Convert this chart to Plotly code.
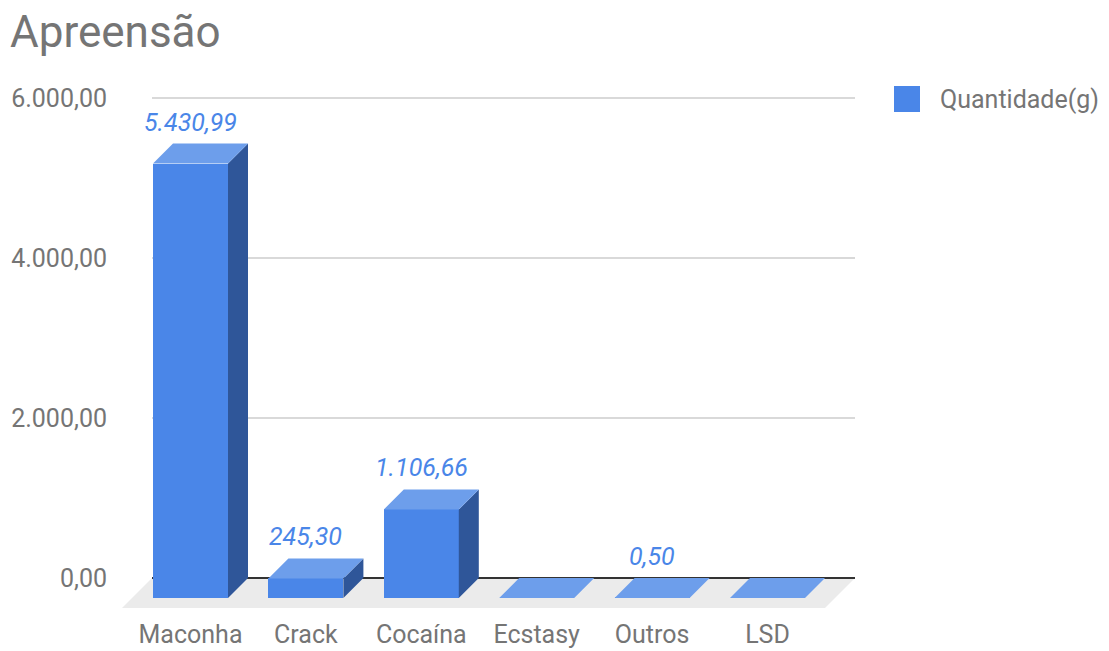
import plotly.graph_objects as go

# ---------------- data ----------------
categories = ["Maconha", "Crack", "Cocaína", "Ecstasy", "Outros", "LSD"]
quantidade = [5430.99, 245.30, 1106.66, 0, 0.50, 0]
y_ticks = [0, 2000, 4000, 6000]
series_name = "Quantidade(g)"
title_text = "Apreensão"


def fmt_br(v):
    s = f"{v:,.2f}"
    return s.replace(",", "X").replace(".", ",").replace("X", ".")


# ---------------- geometry / style ----------------
W, H = 1109, 651
ML, MR, MT, MB = 120, 249, 78, 41
PX_X = 115.4          # pixels per category slot
X0_PX = 190.5         # pixel x of first category (front face centre)
Y_RANGE = [-400, 6250]
plot_w = W - ML - MR
plot_h = H - MT - MB
py = plot_h / (Y_RANGE[1] - Y_RANGE[0])   # px per value unit
x_left = (ML - X0_PX) / PX_X
X_RANGE = [x_left, x_left + plot_w / PX_X]


def ux(px):
    return (px - X0_PX) / PX_X


DEPTH = 20
dx = DEPTH / PX_X
dy = DEPTH / py
bw = 75 / PX_X
FLOOR = 30
fdx = FLOOR / PX_X
fdy = FLOOR / py
back_l, back_r = ux(152), ux(855)

FRONT = "#4a86e8"
TOP = "#6d9eeb"
SIDE = "#2f5699"
TXT = "#757575"
FONT = "Roboto"

n = len(categories)
xs = list(range(n))

fig = go.Figure()

# front faces
fig.add_trace(go.Bar(
    x=xs, y=quantidade, base=[-dy] * n, width=bw,
    marker=dict(color=FRONT, line=dict(width=0)),
    name=series_name, showlegend=False, hoverinfo="skip",
))

# side faces and top faces built from values
sx, sy, tx, ty = [], [], [], []
for i, v in enumerate(quantidade):
    r = i + bw / 2
    l = i - bw / 2
    sx += [r, r + dx, r + dx, r, r, None]
    sy += [-dy, 0, v, v - dy, -dy, None]
    tx += [l, r, r + dx, l + dx, l, None]
    ty += [v - dy, v - dy, v, v, v - dy, None]

fig.add_trace(go.Scatter(x=sx, y=sy, mode="lines", fill="toself",
                         fillcolor=SIDE, line=dict(width=0, color=SIDE),
                         showlegend=False, hoverinfo="skip"))
fig.add_trace(go.Scatter(x=tx, y=ty, mode="lines", fill="toself",
                         fillcolor=TOP, line=dict(width=0, color=TOP),
                         showlegend=False, hoverinfo="skip"))

shapes = []
# floor
shapes.append(dict(
    type="path", xref="x", yref="y", layer="below",
    path=(f"M {back_l},0 L {back_r},0 L {back_r - fdx},{-fdy} "
          f"L {back_l - fdx},{-fdy} Z"),
    fillcolor="#ebebeb", line=dict(width=0),
))
# gridlines
for t in y_ticks:
    if t == 0:
        continue
    shapes.append(dict(type="line", xref="x", yref="y", layer="below",
                       x0=back_l, x1=back_r, y0=t, y1=t,
                       line=dict(color="#cccccc", width=1.5)))
# baseline
shapes.append(dict(type="line", xref="x", yref="y", layer="below",
                   x0=back_l, x1=back_r, y0=0, y1=0,
                   line=dict(color="#333333", width=2)))

# legend (manual)
lx0 = (894 - ML) / plot_w
lx1 = (920 - ML) / plot_w
ly0 = (H - MB - 112) / plot_h
ly1 = (H - MB - 86) / plot_h
shapes.append(dict(type="rect", xref="paper", yref="paper",
                   x0=lx0, x1=lx1, y0=ly0, y1=ly1,
                   fillcolor=FRONT, line=dict(width=0)))

annotations = []
for i, v in enumerate(quantidade):
    if v > 0:
        annotations.append(dict(
            x=i, y=v, xref="x", yref="y", text=fmt_br(v), showarrow=False,
            yshift=21.5, xanchor="center", yanchor="middle",
            font=dict(family=FONT, size=25, color=FRONT, style="italic"),
        ))
annotations.append(dict(
    x=(938 - ML) / plot_w, y=(ly0 + ly1) / 2, xref="paper", yref="paper",
    text=series_name, showarrow=False, xanchor="left", yanchor="middle",
    font=dict(family=FONT, size=25, color=TXT),
))

fig.update_layout(
    width=W, height=H,
    margin=dict(l=ML, r=MR, t=MT, b=MB, pad=0, autoexpand=False),
    paper_bgcolor="white", plot_bgcolor="white",
    title=dict(text=title_text, x=10 / W, xref="container", xanchor="left",
               y=1 - 32 / H, yref="container", yanchor="middle",
               font=dict(family=FONT, size=44, color=TXT)),
    showlegend=False,
    shapes=shapes,
    annotations=annotations,
    font=dict(family=FONT, color=TXT),
    bargap=0,
)
fig.update_xaxes(range=X_RANGE, tickvals=xs, ticktext=categories,
                 showgrid=False, zeroline=False, showline=False, ticks="",
                 ticklabelstandoff=7, automargin=False,
                 tickfont=dict(family=FONT, size=25, color=TXT))
fig.update_yaxes(range=Y_RANGE, tickvals=y_ticks,
                 ticktext=[fmt_br(t) for t in y_ticks],
                 showgrid=False, zeroline=False, showline=False, ticks="",
                 ticklabelstandoff=12, automargin=False,
                 tickfont=dict(family=FONT, size=25, color=TXT))

fig.write_html("out.html")
